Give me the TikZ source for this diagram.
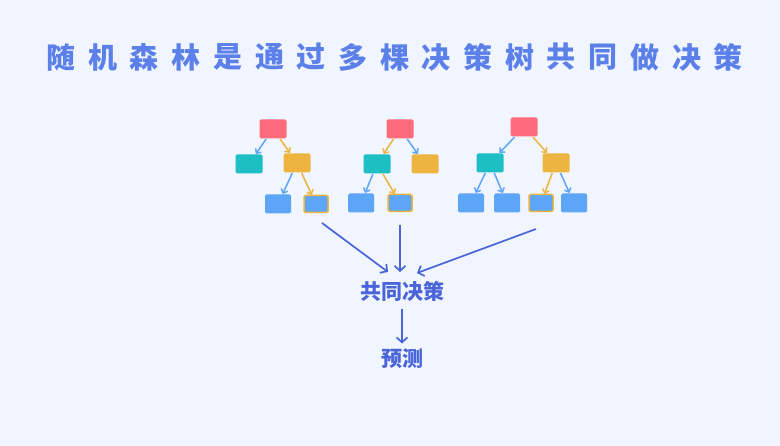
\documentclass[tikz,border=0pt]{standalone}
\usepackage{fontspec}
\newfontfamily\cjk{Noto Sans CJK SC}
\usetikzlibrary{arrows.meta}
\definecolor{bgcol}{HTML}{F0F5FF}
\definecolor{redcol}{HTML}{FF6B7B}
\definecolor{tealcol}{HTML}{1EBEC5}
\definecolor{yelcol}{HTML}{EDB43F}
\definecolor{bluecol}{HTML}{5DA5F7}
\definecolor{inkcol}{HTML}{4A64DA}
\definecolor{titlecol}{HTML}{5B80EA}
\tikzset{
    box/.style={rectangle, rounded corners=1.5pt, minimum width=27pt, minimum height=19pt, inner sep=0pt, outer sep=0.5pt},
    redbox/.style={box, fill=redcol},
    tealbox/.style={box, fill=tealcol},
    yelbox/.style={box, fill=yelcol},
    bluebox/.style={box, fill=bluecol, minimum width=26pt},
    pickbox/.style={box, fill=bluecol, draw=yelcol, line width=1.5pt, minimum width=24pt, minimum height=17pt},
    bluearrow/.style={draw=bluecol, line width=1.5pt, -{Straight Barb[length=3.5pt,width=7pt]}},
    yelarrow/.style={draw=yelcol, line width=1.5pt, -{Straight Barb[length=3.5pt,width=7pt]}},
    bigarrow/.style={draw=inkcol, line width=1.7pt, -{Straight Barb[length=5pt,width=11pt]}},
    label/.style={text=inkcol, font=\cjk\bfseries\fontsize{21}{24}\selectfont}
}
\begin{document}
\begin{tikzpicture}[x=1pt, y=-1pt]
        \fill[bgcol] (0,0) rectangle (780,446);
        \useasboundingbox (0,0) rectangle (780,446);
        % title
        \foreach \c [count=\i from 0] in {随,机,森,林,是,通,过,多,棵,决,策,树,共,同,做,决,策}
            \node[text=titlecol, font=\cjk\bfseries\fontsize{29}{32}\selectfont] (t\i) at (61+41.7*\i,57) {\c};
        % tree 1
        \node[redbox] (r1) at (273,129) {};
        \node[tealbox] (r1l) at (249,164) {};
        \node[yelbox] (r1r) at (297,163) {};
        \node[bluebox] (r1a) at (278,204) {};
        \node[pickbox] (r1b) at (316,204) {};
        \draw[bluearrow] (r1) -- (r1l);
        \draw[yelarrow] (r1) -- (r1r);
        \draw[bluearrow] (r1r) -- (r1a);
        \draw[yelarrow] (r1r) -- (r1b);
        % tree 2
        \node[redbox] (r2) at (400,129) {};
        \node[tealbox] (r2l) at (377,164) {};
        \node[yelbox] (r2r) at (425,164) {};
        \node[bluebox] (r2a) at (361,203) {};
        \node[pickbox] (r2b) at (400,203) {};
        \draw[yelarrow] (r2) -- (r2l);
        \draw[bluearrow] (r2) -- (r2r);
        \draw[bluearrow] (r2l) -- (r2a);
        \draw[yelarrow] (r2l) -- (r2b);
        % tree 3
        \node[redbox] (r3) at (524,127) {};
        \node[tealbox] (r3l) at (490,163) {};
        \node[yelbox] (r3r) at (556,163) {};
        \node[bluebox] (r3a) at (471,203) {};
        \node[bluebox] (r3b) at (507,203) {};
        \node[pickbox] (r3c) at (541,203) {};
        \node[bluebox] (r3d) at (574,203) {};
        \draw[bluearrow] (r3) -- (r3l);
        \draw[yelarrow] (r3) -- (r3r);
        \draw[bluearrow] (r3l) -- (r3a);
        \draw[bluearrow] (r3l) -- (r3b);
        \draw[yelarrow] (r3r) -- (r3c);
        \draw[bluearrow] (r3r) -- (r3d);
        % voting
        \node[label] (vote) at (402,291) {共同决策};
        \node[label] (pred) at (402,359) {预测};
        \coordinate (s1) at (322,223);
        \coordinate (s2) at (400,225);
        \coordinate (s3) at (536,229);
        \coordinate (e1) at (388,272);
        \coordinate (e2) at (400,272);
        \coordinate (e3) at (417,273);
        \draw[bigarrow] (s1) -- (e1);
        \draw[bigarrow] (s2) -- (e2);
        \draw[bigarrow] (s3) -- (e3);
        \draw[bigarrow, shorten <=4pt, shorten >=2pt] (vote) -- (pred);
    \end{tikzpicture}
\end{document}
